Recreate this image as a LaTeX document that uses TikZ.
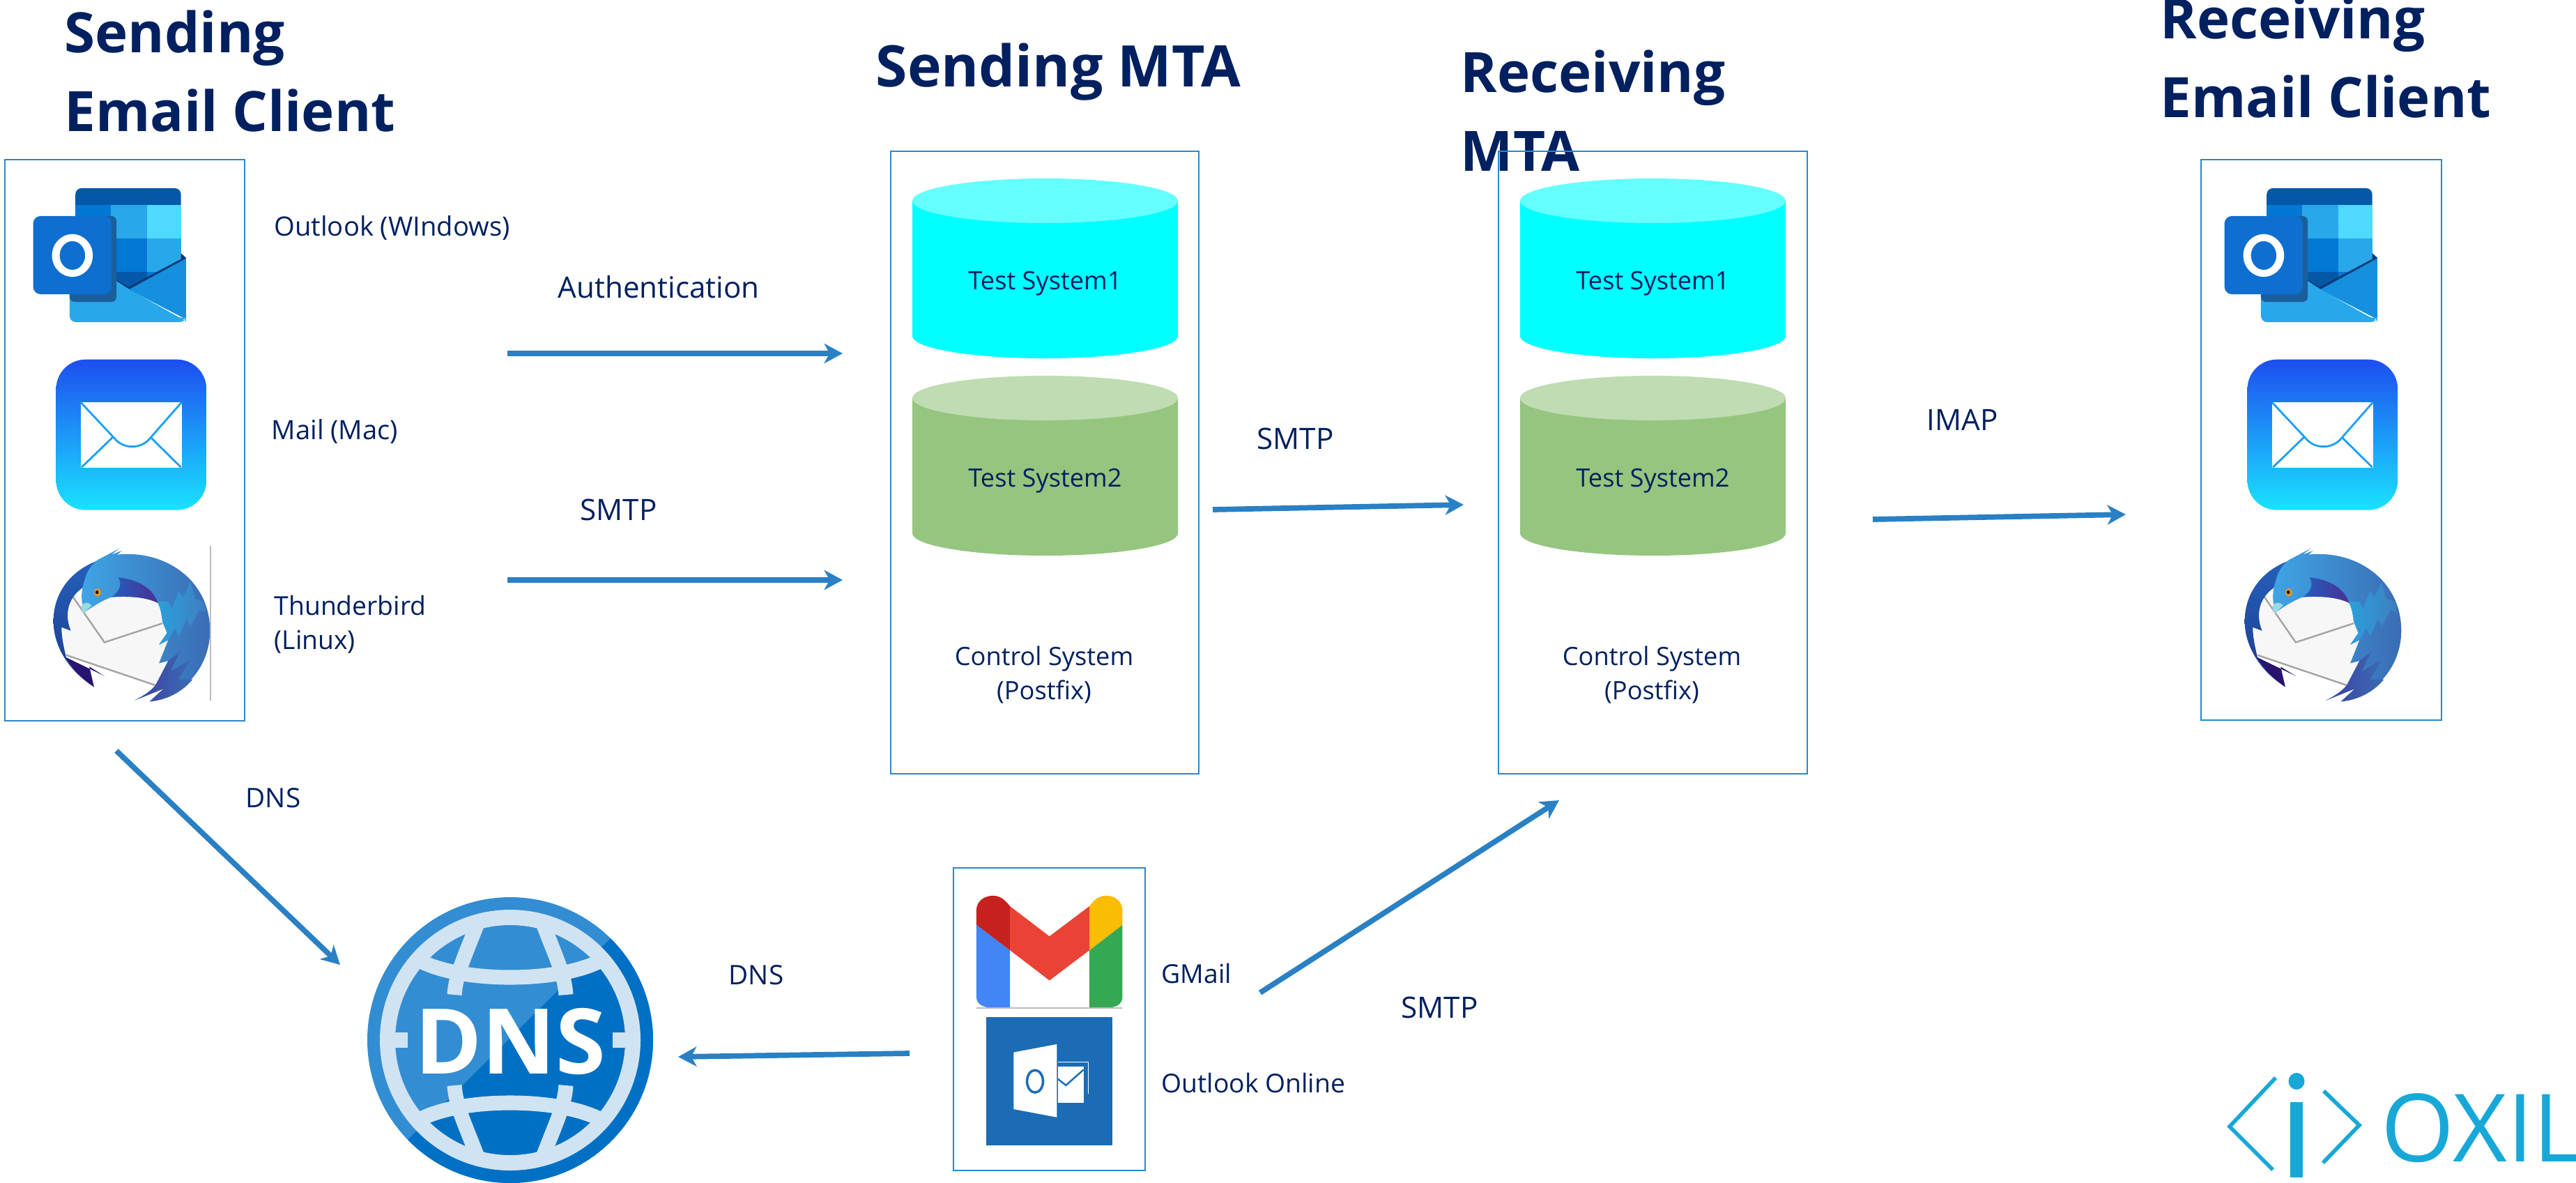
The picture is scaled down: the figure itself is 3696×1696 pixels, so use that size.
\documentclass[tikz,border=0pt]{standalone}
\usepackage{fontspec}
\setmainfont{Open Sans}
\usetikzlibrary{arrows.meta}
\definecolor{navy}{HTML}{002060}
\definecolor{boxline}{HTML}{2E86C8}
\definecolor{arrowc}{HTML}{2980C4}
\definecolor{cyanbody}{HTML}{00FFFF}
\definecolor{cyantop}{HTML}{66FFFF}
\definecolor{greenbody}{HTML}{95C57F}
\definecolor{greentop}{HTML}{BFDCB2}
\definecolor{logoc}{HTML}{17A8D8}
\definecolor{oBand}{HTML}{0558A8}
\definecolor{oMid}{HTML}{0078D4}
\definecolor{oLight}{HTML}{28A8EA}
\definecolor{oPale}{HTML}{50D9FF}
\definecolor{oFlap}{HTML}{1490DF}
\definecolor{oSquare}{HTML}{0F6FD0}
\definecolor{oShadow}{HTML}{1A5F9C}
\definecolor{oEdge}{HTML}{0A3E7A}
\definecolor{mailTop}{HTML}{1D4EF0}
\definecolor{mailBot}{HTML}{1AE2FF}
\definecolor{mailLine}{HTML}{1BA0F5}
\definecolor{bCres}{HTML}{2460BA}
\definecolor{bCresB}{HTML}{1E3A90}
\definecolor{bNavy}{HTML}{28146E}
\definecolor{bEnv}{HTML}{F7F7F7}
\definecolor{bGray}{HTML}{A5A5A5}
\definecolor{bHead}{HTML}{3FA5E5}
\definecolor{bWing}{HTML}{2260BC}
\definecolor{bRight}{HTML}{3A6CB4}
\definecolor{bPurple}{HTML}{4B2E96}
\definecolor{bTeal}{HTML}{2AA0DC}
\definecolor{bTealR}{HTML}{3F7FC0}
\definecolor{bLow}{HTML}{3D3FA0}
\definecolor{bBeak}{HTML}{9ADBE5}
\definecolor{bEye}{HTML}{E6961E}
\definecolor{bPupil}{HTML}{1E141E}
\definecolor{dnsLight}{HTML}{338DD3}
\definecolor{dnsDark}{HTML}{0070C4}
\definecolor{dnsRing}{HTML}{D0E3F3}
\definecolor{gBlue}{HTML}{4285F4}
\definecolor{gGreen}{HTML}{34A853}
\definecolor{gDark}{HTML}{C5221F}
\definecolor{gYellow}{HTML}{FBBC04}
\definecolor{gRed}{HTML}{EA4335}
\definecolor{gGray}{HTML}{BBBBBB}
\definecolor{olBlue}{HTML}{1B6CB5}
\tikzset{
  flow/.style={draw=arrowc,line width=2.2pt,-{Stealth[length=7.5pt,width=8pt,inset=2.2pt]}},
  lab/.style={font=\fontsize{10.6pt}{14pt}\selectfont,text=navy,inner sep=0pt,anchor=west,align=left},
  labw/.style={font=\fontsize{10.85pt}{14pt}\selectfont,text=navy,inner sep=0pt,anchor=west,align=left},
  labc/.style={font=\fontsize{10.3pt}{14pt}\selectfont,text=navy,inner sep=0pt,anchor=center,align=center},
  labb/.style={font=\fontsize{12pt}{14pt}\selectfont,text=navy,inner sep=0pt,anchor=west},
  labd/.style={font=\fontsize{11pt}{14pt}\selectfont,text=navy,inner sep=0pt,anchor=west},
  head/.style={font=\fontsize{22.7pt}{32.2pt}\selectfont\bfseries,text=navy,inner sep=0pt,anchor=west,align=left},
  framebox/.style={draw=boxline,line width=0.8pt},
}
% cylinder: centre x, top ellipse centre y, bottom ellipse centre y, body, top, name, text
\newcommand{\cyl}[7]{%
  \fill[#4] (#1-190.5,#2) -- (#1-190.5,#3) arc[start angle=180,end angle=0,x radius=190.5,y radius=32] -- (#1+190.5,#2) -- cycle;
  \fill[#5] (#1,#2) ellipse[x radius=190.5,y radius=32];
  \node[labc] (#6) at (#1,#2+119) {#7};
}
\newcommand{\iconOutlook}[1]{%
\begin{scope}[shift={(30+#1,255)},x=0.003333cm,y=-0.003333cm]
  \fill[oBand,rounded corners=2.5pt] (235,45) rectangle (690,160);
  \fill[oMid] (235,118) rectangle (388,262);
  \fill[oLight] (388,118) rectangle (545,262);
  \fill[oPale] (545,118) rectangle (690,262);
  \fill[oMid] (235,262) rectangle (545,405);
  \fill[oLight] (545,262) rectangle (690,405);
  \fill[oBand] (235,405) rectangle (545,480);
  \fill[oMid] (545,405) rectangle (690,480);
  \fill[oEdge] (690,325) -- (712,345) -- (712,360) -- (465,486) -- (390,445) -- (390,428) -- (465,470) -- (690,350) -- cycle;
  \fill[oFlap] (465,482) -- (712,348) -- (712,610) -- cycle;
  \fill[oLight,rounded corners=2.5pt] (210,400) -- (390,430) -- (465,480) -- (700,612) -- (712,600) -- (712,622) -- (210,622) -- cycle;
  \fill[oShadow,rounded corners=2pt] (235,165) -- (412,165) -- (412,535) -- (210,535) -- (210,400) -- cycle;
  \fill[oSquare,rounded corners=3pt] (53,165) rectangle (390,502);
  \fill[white,even odd rule] (222,335) ellipse[x radius=88,y radius=92] (222,335) ellipse[x radius=55,y radius=62];
\end{scope}}
\newcommand{\iconMail}[1]{%
\begin{scope}[shift={(#1,200)},x=0.003333cm,y=-0.005485cm]
  \shade[rounded corners=12pt,top color=mailTop,bottom color=mailBot] (242,576) rectangle (890,970);
  \fill[white] (348,688) rectangle (783,860);
  \draw[line width=0.8pt,draw=mailLine] (348,688) -- (490,780) .. controls (530,812) and (610,812) .. (650,780) -- (783,688);
  \draw[line width=0.8pt,draw=mailLine] (352,858) -- (485,780) (650,780) -- (780,858);
\end{scope}}
\newcommand{\iconBird}[1]{%
\begin{scope}[shift={(60+#1,775)},x=0.003333cm,y=-0.003333cm]
  % envelope
  \fill[bEnv] (125,240) -- (500,250) -- (520,350) -- (545,430) -- (510,530) -- (545,520) -- (490,625) -- (105,495) -- (85,375) -- (125,390) .. controls (100,330) and (100,280) .. (125,240) -- cycle;
  \draw[line width=0.7pt,draw=bGray] (135,245) -- (270,440) -- (520,358);
  \draw[line width=0.7pt,draw=bGray] (105,495) -- (490,625);
  % left crescent
  \shade[top color=bCres,bottom color=bCresB] (235,90) .. controls (120,135) and (50,230) .. (50,350) .. controls (50,450) and (110,560) .. (225,632) -- (190,553) -- (105,505) .. controls (95,460) and (85,420) .. (85,375) -- (125,390) .. controls (100,330) and (105,255) .. (175,205) -- cycle;
  % navy tip
  \fill[bNavy] (105,505) -- (270,585) -- (205,545) -- (225,632) .. controls (180,600) and (135,560) .. (105,505) -- cycle;
  % wing and head
  \shade[left color=bHead,middle color=bWing,right color=bRight] (240,85) -- (335,35) -- (300,62) -- (345,45) -- (325,62) .. controls (530,40) and (725,170) .. (725,390) .. controls (725,540) and (620,670) .. (465,695) -- (525,640) -- (400,690) .. controls (440,670) and (470,650) .. (490,625) -- (545,520) -- (505,530) -- (545,430) -- (505,450) -- (540,400) -- (520,350) .. controls (515,300) and (505,280) .. (500,270) .. controls (450,245) and (380,240) .. (300,245) .. controls (260,260) and (220,285) .. (185,310) .. controls (170,270) and (165,230) .. (185,170) .. controls (195,130) and (215,105) .. (240,85) -- cycle;
  % purple under the neck
  \shade[left color=bWing,right color=bPurple] (330,160) .. controls (420,170) and (480,210) .. (500,270) .. controls (450,245) and (380,240) .. (300,245) .. controls (330,225) and (350,195) .. (330,160) -- cycle;
  % teal feathers
  \shade[left color=bTeal,right color=bTealR] (500,265) -- (545,265) -- (560,295) -- (590,220) -- (610,245) -- (640,180) -- (660,250) -- (700,270) -- (705,310) -- (680,300) -- (640,370) -- (625,340) -- (590,415) -- (575,375) -- (545,430) -- (505,450) -- (540,400) -- (520,350) .. controls (515,300) and (505,280) .. (500,265) -- cycle;
  % lower feathers
  \shade[left color=bLow,right color=bRight] (545,520) -- (595,480) -- (555,565) -- (640,515) -- (590,600) -- (650,600) .. controls (600,660) and (530,690) .. (465,695) -- (525,640) -- (400,690) .. controls (440,670) and (470,650) .. (490,625) -- cycle;
  % beak and eye
  \fill[bBeak] (170,285) .. controls (180,265) and (200,265) .. (215,280) -- (180,315) .. controls (172,305) and (170,295) .. (170,285) -- cycle;
  \fill[bEye] (240,225) ellipse[x radius=15,y radius=18];
  \fill[bPupil] (238,224) ellipse[x radius=7,y radius=8];
\end{scope}}
\begin{document}
\begin{tikzpicture}[x=0.01cm,y=-0.01cm]
\useasboundingbox (0,0) rectangle (3696,1696);
\fill[white] (0,0) rectangle (3696,1696);

% headings
\node[head] (h1) at (92,102) {Sending\\Email Client};
\node[head,font=\fontsize{23.4pt}{32.2pt}\selectfont\bfseries] (h2) at (1256,103) {Sending MTA};
\node[head] (h3) at (2095,159) {Receiving\\MTA};
\node[head] (h4) at (3099,82) {Receiving\\Email Client};

% boxes
\draw[framebox] (7,229) rectangle (351,1034);
\draw[framebox] (1278,217) rectangle (1720,1110);
\draw[framebox] (2150,217) rectangle (2593,1110);
\draw[framebox] (3158,229) rectangle (3503,1033);
\draw[framebox] (1368,1245) rectangle (1643,1679);

% icons
\iconOutlook{0}\iconMail{0}\iconBird{0}
\draw[line width=0.4pt,draw=gGray] (302,783) -- (302,1005);
\iconOutlook{3144}\iconMail{3144}\iconBird{3144}

% cylinders
\cyl{1499.5}{288}{482}{cyanbody}{cyantop}{t1a}{Test System1}
\cyl{1499.5}{571}{765}{greenbody}{greentop}{t2a}{Test System2}
\cyl{2371.5}{288}{482}{cyanbody}{cyantop}{t1b}{Test System1}
\cyl{2371.5}{571}{765}{greenbody}{greentop}{t2b}{Test System2}

% labels
\node[labw] (l1) at (393,327) {Outlook (WIndows)};
\node[labw] (l2) at (389,619) {Mail (Mac)};
\node[lab] (l3) at (393,896) {Thunderbird\\(Linux)};
\node[labc] (c1) at (1498,968) {Control System\\(Postfix)};
\node[labc] (c2) at (2370,968) {Control System\\(Postfix)};
\node[labb] (a1) at (800,412) {Authentication};
\node[labb] (a2) at (832,731) {SMTP};
\node[labb] (a3) at (1803,629) {SMTP};
\node[labb] (a4) at (2764,602) {IMAP};
\node[labd] (a5) at (352,1145) {DNS};
\node[labd] (a6) at (1045,1399) {DNS};
\node[lab] (g1) at (1666,1396) {GMail};
\node[lab] (g2) at (1666,1553) {Outlook Online};
\node[labb] (a7) at (2010,1445) {SMTP};

% connectors
\coordinate (p1s) at (728,507);   \coordinate (p1e) at (1209,507);
\coordinate (p2s) at (728,832);   \coordinate (p2e) at (1209,832);
\coordinate (p3s) at (1740,731);  \coordinate (p3e) at (2100,724);
\coordinate (p4s) at (2687,745);  \coordinate (p4e) at (3050,738);
\coordinate (p5s) at (167,1077);  \coordinate (p5e) at (488,1384);
\coordinate (p6s) at (1808,1424); \coordinate (p6e) at (2237,1148);
\coordinate (p7s) at (1305,1511); \coordinate (p7e) at (973,1516);
\draw[flow] (p1s) -- (p1e);
\draw[flow] (p2s) -- (p2e);
\draw[flow] (p3s) -- (p3e);
\draw[flow] (p4s) -- (p4e);
\draw[flow] (p5s) -- (p5e);
\draw[flow] (p6s) -- (p6e);
\draw[flow] (p7s) -- (p7e);

% Gmail and Outlook Online icons
\begin{scope}[shift={(480,1220)},x=0.00765cm,y=-0.003333cm]
  \fill[gBlue] (1204,320) -- (1267,430) -- (1267,678) -- (1235,678) .. controls (1215,678) and (1204,660) .. (1204,630) -- cycle;
  \fill[gGreen] (1478,320) -- (1416,430) -- (1416,678) -- (1448,678) .. controls (1468,678) and (1478,660) .. (1478,630) -- cycle;
  \fill[gDark] (1204,320) -- (1204,260) .. controls (1204,215) and (1220,195) .. (1235,195) .. controls (1250,195) and (1258,215) .. (1267,240) -- (1267,430) -- cycle;
  \fill[gYellow] (1478,320) -- (1478,260) .. controls (1478,215) and (1462,195) .. (1448,195) .. controls (1432,195) and (1424,215) .. (1416,240) -- (1416,430) -- cycle;
  \fill[gRed] (1267,240) -- (1341,370) -- (1416,240) -- (1416,430) -- (1341,560) -- (1267,430) -- cycle;
  \draw[line width=0.3pt,draw=gGray] (1204,679) -- (1478,679);
  \fill[olBlue] (1222,717) rectangle (1459,1271);
  \fill[white] (1274,870) -- (1355,835) -- (1355,1150) -- (1274,1115) -- cycle;
  \draw[line width=1pt,draw=olBlue] (1314,995) ellipse[x radius=15,y radius=48];
  \draw[line width=0.4pt,white] (1357,912) -- (1414,912) -- (1414,1050);
  \fill[white] (1357,930) rectangle (1405,1088);
  \draw[line width=0.7pt,draw=olBlue] (1357,985) -- (1372,1012) -- (1405,945);
\end{scope}

% DNS globe
\begin{scope}[shift={(732,1492)}]
  \fill[dnsLight] (0,0) circle[radius=205];
  \begin{scope}
    \clip (0,0) circle[radius=205];
    \fill[dnsDark] (-300,300) -- (-145,141) -- (142,-144) -- (300,-300) -- (300,300) -- cycle;
  \end{scope}
  \fill[dnsRing,even odd rule] (0,0) circle[radius=187] (0,0) circle[radius=165];
  \begin{scope}
    \clip (0,0) circle[radius=170];
    \fill[dnsRing] (-170,-11) rectangle (-147,11);
    \fill[dnsRing] (170,-11) rectangle (147,11);
    \foreach \s in {1,-1}{
      \draw[line width=6pt,draw=dnsRing] (-130,-114*\s) .. controls (-70,-82*\s) and (70,-82*\s) .. (130,-114*\s);
      \draw[line width=6pt,draw=dnsRing] (-46,-170*\s) .. controls (-65,-120*\s) and (-78,-95*\s) .. (-80,-65*\s);
      \draw[line width=6pt,draw=dnsRing] (46,-170*\s) .. controls (65,-120*\s) and (78,-95*\s) .. (80,-65*\s);
    }
  \end{scope}
  \node[inner sep=0pt,text=white,font=\fontsize{37pt}{40pt}\selectfont\bfseries] (dnsglobe) at (0,2) {DNS};
\end{scope}

% logo
\draw[draw=logoc,line width=1.6pt] (3265,1546) -- (3199,1616) -- (3261,1678);
\draw[draw=logoc,line width=1.6pt] (3334,1565) -- (3385,1614) -- (3333,1668);
\fill[logoc] (3286,1581) rectangle (3304,1689);
\fill[logoc] (3295,1551) ellipse[x radius=11.5,y radius=12];
\node[inner sep=0pt,anchor=base west,text=logoc,font=\fontsize{38.4pt}{40pt}\selectfont] (oxil) at (3416,1666) {OXIL};
\end{tikzpicture}
\end{document}
